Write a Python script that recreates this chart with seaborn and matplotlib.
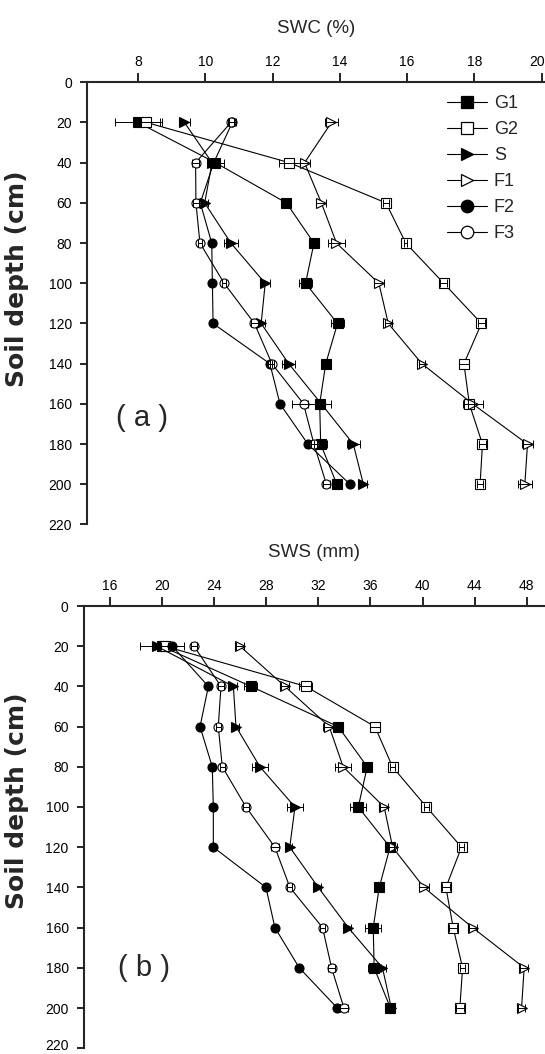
import matplotlib
matplotlib.use("Agg")
import matplotlib.pyplot as plt
import matplotlib.transforms as mtransforms
from matplotlib.lines import Line2D
import seaborn as sns

# Soil depth of each sampling layer (cm)
depth = [20, 40, 60, 80, 100, 120, 140, 160, 180, 200]
series = ["G1", "G2", "S", "F1", "F2", "F3"]

# Soil water content (%) by layer, with standard errors
swc_g1 = [8.0, 10.3, 12.41, 13.23, 12.98, 13.93, 13.58, 13.4, 13.43, 13.91]
swc_g2 = [8.25, 12.5, 15.37, 15.96, 17.09, 18.21, 17.69, 17.85, 18.24, 18.17]
swc_s = [9.38, 10.2, 9.98, 10.76, 11.78, 11.66, 12.48, 13.45, 14.4, 14.7]
swc_f1 = [13.75, 12.95, 13.45, 13.9, 15.16, 15.44, 16.44, 17.95, 19.58, 19.5]
swc_f2 = [10.8, 10.25, 9.85, 10.19, 10.21, 10.23, 11.92, 12.22, 13.05, 14.3]
swc_f3 = [10.76, 9.71, 9.72, 9.84, 10.56, 11.46, 11.98, 12.92, 13.23, 13.6]

swc_g1_se = [0.7, 0.25, 0.1, 0.15, 0.2, 0.2, 0.1, 0.35, 0.2, 0.1]
swc_g2_se = [0.4, 0.3, 0.1, 0.05, 0.1, 0.1, 0.15, 0.15, 0.1, 0.1]
swc_s_se = [0.15, 0.1, 0.1, 0.2, 0.15, 0.1, 0.2, 0.1, 0.2, 0.1]
swc_f1_se = [0.2, 0.15, 0.15, 0.25, 0.15, 0.1, 0.1, 0.3, 0.15, 0.2]
swc_f2_se = [0.1, 0.1, 0.05, 0.05, 0.05, 0.05, 0.05, 0.05, 0.1, 0.05]
swc_f3_se = [0.1, 0.1, 0.1, 0.05, 0.05, 0.1, 0.05, 0.35, 0.1, 0.1]

# Soil water storage (mm) by layer, with standard errors
sws_g1 = [19.97, 26.82, 33.52, 35.75, 35.06, 37.5, 36.67, 36.21, 36.28, 37.53]
sws_g2 = [20.2, 31.04, 36.34, 37.69, 40.3, 42.99, 41.79, 42.35, 43.07, 42.86]
sws_s = [19.58, 25.47, 25.67, 27.51, 30.2, 29.8, 31.99, 34.29, 36.92, 37.6]
sws_f1 = [25.98, 29.43, 32.83, 33.9, 37.05, 37.7, 40.1, 43.84, 47.8, 47.6]
sws_f2 = [20.78, 23.55, 22.91, 23.85, 23.93, 23.93, 27.97, 28.66, 30.53, 33.45]
sws_f3 = [22.45, 24.52, 24.31, 24.62, 26.44, 28.66, 29.81, 32.32, 33.01, 33.96]

sws_g1_se = [0.5, 0.5, 0.3, 0.3, 0.6, 0.3, 0.2, 0.6, 0.5, 0.3]
sws_g2_se = [0.4, 0.5, 0.4, 0.2, 0.2, 0.2, 0.3, 0.3, 0.2, 0.3]
sws_s_se = [1.3, 0.3, 0.2, 0.6, 0.6, 0.2, 0.2, 0.2, 0.3, 0.2]
sws_f1_se = [0.3, 0.3, 0.5, 0.6, 0.3, 0.3, 0.4, 0.3, 0.3, 0.3]
sws_f2_se = [0.9, 0.2, 0.1, 0.2, 0.1, 0.1, 0.1, 0.1, 0.1, 0.2]
sws_f3_se = [0.2, 0.2, 0.2, 0.2, 0.2, 0.3, 0.2, 0.2, 0.3, 0.3]

swc_ticks = [8, 10, 12, 14, 16, 18, 20]
sws_ticks = [16, 20, 24, 28, 32, 36, 40, 44, 48]
depth_ticks = list(range(0, 221, 20))

swc = dict(zip(series, [swc_g1, swc_g2, swc_s, swc_f1, swc_f2, swc_f3]))
swc_se = dict(zip(series, [swc_g1_se, swc_g2_se, swc_s_se, swc_f1_se, swc_f2_se, swc_f3_se]))
sws = dict(zip(series, [sws_g1, sws_g2, sws_s, sws_f1, sws_f2, sws_f3]))
sws_se = dict(zip(series, [sws_g1_se, sws_g2_se, sws_s_se, sws_f1_se, sws_f2_se, sws_f3_se]))

# marker shape and face colour for each treatment
style = {
    "G1": ("s", "black"),
    "G2": ("s", "white"),
    "S": (">", "black"),
    "F1": (">", "white"),
    "F2": ("o", "black"),
    "F3": ("o", "white"),
}

sns.set_theme(style="ticks")
plt.rcParams["font.family"] = ["Liberation Sans", "DejaVu Sans"]
plt.rcParams["axes.linewidth"] = 1.5

W, H = 545, 1054
fig = plt.figure(figsize=(W / 100, H / 100), dpi=100)


def px_axes(left, top, right, bottom):
    return fig.add_axes([left / W, 1 - bottom / H, (right - left) / W, (bottom - top) / H])


ax1 = px_axes(87.3, 82.3, 545, 524.5)
ax2 = px_axes(84, 606, 545, 1048.2)


def draw_panel(ax, values, errors, xlim, xticks, xlabel):
    for name in series:
        mk, fc = style[name]
        sns.lineplot(x=values[name], y=depth, ax=ax, sort=False, estimator=None,
                     color="black", lw=0.8, marker=mk, markersize=6.5,
                     markerfacecolor=fc, markeredgecolor="black",
                     markeredgewidth=0.8, legend=False, zorder=2)
        ax.errorbar(values[name], depth, xerr=errors[name], fmt="none",
                    ecolor="black", elinewidth=0.7, capsize=2.6,
                    capthick=0.7, zorder=3)
    ax.set_xlim(*xlim)
    ax.set_ylim(220, 0)
    ax.set_xticks(xticks)
    ax.set_yticks(depth_ticks)
    ax.xaxis.tick_top()
    ax.xaxis.set_label_position("top")
    ax.set_xlabel(xlabel, fontsize=13.5, labelpad=16)
    for side in ("right", "bottom"):
        ax.spines[side].set_visible(False)
    ax.spines["top"].set_linewidth(1.5)
    ax.spines["left"].set_linewidth(1.5)
    ax.tick_params(axis="x", direction="out", length=6.5, width=1.2, pad=3,
                   labelsize=10, colors="black")
    ax.tick_params(axis="y", direction="out", length=5, width=1.2, pad=6,
                   labelsize=10, colors="black")
    ax.set_facecolor("white")


draw_panel(ax1, swc, swc_se, (6.49, 20.1), swc_ticks, "SWC (%)")
draw_panel(ax2, sws, sws_se, (14.0, 49.4), sws_ticks, "SWS (mm)")

# keep the last SWC tick label inside the figure
last = ax1.get_xticklabels()[-1]
last.set_ha("right")
last.set_transform(last.get_transform() +
                   mtransforms.ScaledTranslation(0.03, 0, fig.dpi_scale_trans))

# keep the deepest label of the lower panel inside the figure
bottom_lbl = ax2.get_yticklabels()[-1]
bottom_lbl.set_transform(bottom_lbl.get_transform() +
                         mtransforms.ScaledTranslation(0, 0.035, fig.dpi_scale_trans))

# depth axis titles
for ax, yc in ((ax1, 279), (ax2, 801)):
    ax.set_ylabel("Soil depth (cm)", fontsize=18, fontweight="bold",
                  family=["DejaVu Sans"])
    ax.yaxis.set_label_coords(29 / W, 1 - yc / H, transform=fig.transFigure)

fig.text(142.3 / W, 1 - 417.7 / H, "( a )", fontsize=21, ha="center", va="center")
fig.text(144 / W, 1 - 968.3 / H, "( b )", fontsize=21, ha="center", va="center")

handles = []
for name in series:
    mk, fc = style[name]
    handles.append(Line2D([], [], color="black", lw=0.8, marker=mk, markersize=9,
                          markerfacecolor=fc, markeredgecolor="black",
                          markeredgewidth=0.9))
ax1.legend(handles, series, loc="upper left", bbox_to_anchor=(438 / W, 1 - 86 / H),
           bbox_transform=fig.transFigure, frameon=False, fontsize=13,
           handlelength=2.2, handletextpad=0.4, labelspacing=0.5, borderpad=0)

fig.savefig("out.png", dpi=100, facecolor="white")
